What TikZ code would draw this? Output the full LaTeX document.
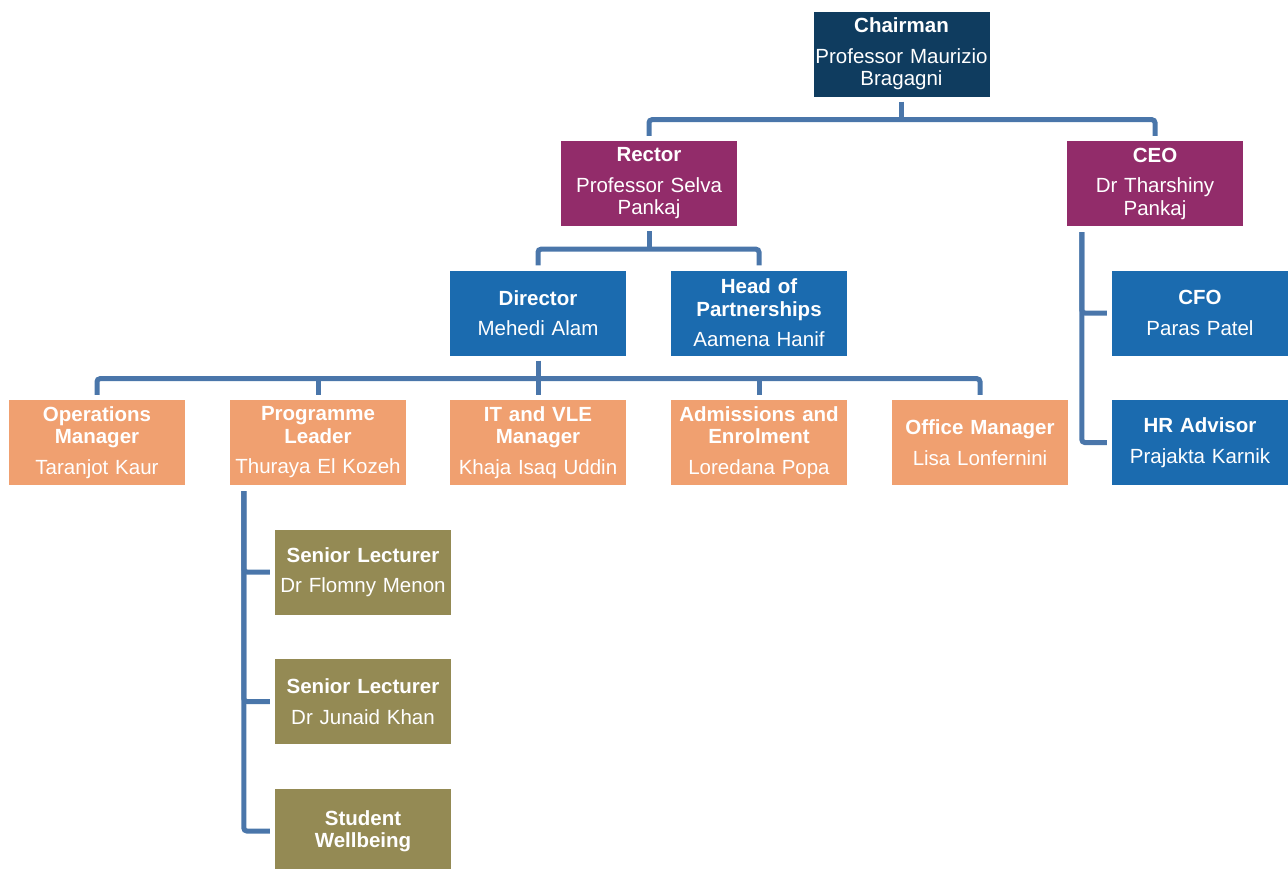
\documentclass[tikz,border=0pt]{standalone}
\usepackage{fontspec}
\setmainfont{Liberation Sans}
\usepackage{tikz}
\usetikzlibrary{positioning}
\definecolor{chaircol}{HTML}{0F3C5F}
\definecolor{execcol}{HTML}{922C6A}
\definecolor{seniorcol}{HTML}{1B6BAF}
\definecolor{managercol}{HTML}{F0A070}
\definecolor{academiccol}{HTML}{948A54}
\definecolor{linkcol}{HTML}{4A76AA}
\tikzstyle{role} = [rectangle, text width=176pt, minimum height=85pt, inner sep=0pt, align=center, text=white, font=\fontsize{20.5}{22.5}\selectfont]
\tikzstyle{chair} = [role, fill=chaircol]
\tikzstyle{exec} = [role, fill=execcol]
\tikzstyle{senior} = [role, fill=seniorcol]
\tikzstyle{manager} = [role, fill=managercol]
\tikzstyle{academic} = [role, fill=academiccol]
\tikzstyle{link} = [line width=5pt, draw=linkcol, rounded corners=3pt]

\begin{document}
\begin{tikzpicture}[x=1pt, y=1pt, node distance=129.5pt]
\useasboundingbox (0,0) rectangle (1288,-868);

\node (chairman) [chair] at (901.5,-54) {\textbf{Chairman}\\[8pt]\mbox{Professor Maurizio}\\Bragagni};
\node (rector) [exec, below of=chairman, xshift=-252.5pt] {\textbf{Rector}\\[8pt]Professor Selva\\Pankaj};
\node (ceo) [exec, below of=chairman, xshift=253.5pt] {\textbf{CEO}\\[8pt]Dr Tharshiny\\Pankaj};
\node (director) [senior, below of=rector, xshift=-111pt] {\textbf{Director}\\[8pt]Mehedi Alam};
\node (partners) [senior, below of=rector, xshift=110pt] {\textbf{Head of}\\\textbf{Partnerships}\\[8pt]Aamena Hanif};
\node (cfo) [senior, below of=ceo, xshift=45pt] {\textbf{CFO}\\[8pt]Paras Patel};
\node (hr) [senior, below of=cfo] {\textbf{HR Advisor}\\[8pt]Prajakta Karnik};
\node (operations) [manager, below of=director, xshift=-441pt] {\textbf{Operations}\\\textbf{Manager}\\[8pt]Taranjot Kaur};
\node (programme) [manager, below of=director, xshift=-220pt] {\textbf{Programme}\\\textbf{Leader}\\[8pt]Thuraya El Kozeh};
\node (itvle) [manager, below of=director] {\textbf{IT and VLE}\\\textbf{Manager}\\[8pt]Khaja Isaq Uddin};
\node (admissions) [manager, below of=director, xshift=221pt] {\textbf{Admissions and}\\\textbf{Enrolment}\\[8pt]Loredana Popa};
\node (office) [manager, below of=director, xshift=442pt] {\textbf{Office Manager}\\[8pt]Lisa Lonfernini};
\node (lecturer1) [academic, below of=programme, xshift=45pt] {\textbf{Senior Lecturer}\\[8pt]Dr Flomny Menon};
\node (lecturer2) [academic, below of=lecturer1] {\textbf{Senior Lecturer}\\[8pt]Dr Junaid Khan};
\node (wellbeing) [academic, below of=lecturer2] {\textbf{Student}\\\textbf{Wellbeing}};

\coordinate (bus1) at ([yshift=-23pt]chairman.south);
\coordinate (bus2) at ([yshift=-23pt]rector.south);
\coordinate (bus3) at ([yshift=-23pt]director.south);
\coordinate (ceostem) at ([xshift=15pt,yshift=-6pt]ceo.south west);
\coordinate (progstem) at ([xshift=14pt,yshift=-6pt]programme.south west);

\draw [link, shorten <=5pt] (chairman.south) -- (bus1);
\draw [link, shorten <=5pt, shorten >=5pt] (rector.north) |- (bus1) -| (ceo.north);
\draw [link, shorten <=5pt] (rector.south) -- (bus2);
\draw [link, shorten <=5pt, shorten >=5pt] (director.north) |- (bus2) -| (partners.north);
\draw [link, shorten <=5pt, shorten >=5pt] (director.south) -- (itvle.north);
\draw [link, shorten <=5pt, shorten >=5pt] (operations.north) |- (bus3) -| (office.north);
\draw [link, shorten <=5pt] (programme.north) -- (programme.north |- bus3);
\draw [link, shorten <=5pt] (admissions.north) -- (admissions.north |- bus3);
\draw [link, shorten >=5pt] (ceostem) |- (cfo.west);
\draw [link, shorten >=5pt] (ceostem) |- (hr.west);
\draw [link, shorten >=5pt] (progstem) |- (lecturer1.west);
\draw [link, shorten >=5pt] (progstem) |- (lecturer2.west);
\draw [link, shorten >=5pt] (progstem) |- (wellbeing.west);

\end{tikzpicture}
\end{document}
